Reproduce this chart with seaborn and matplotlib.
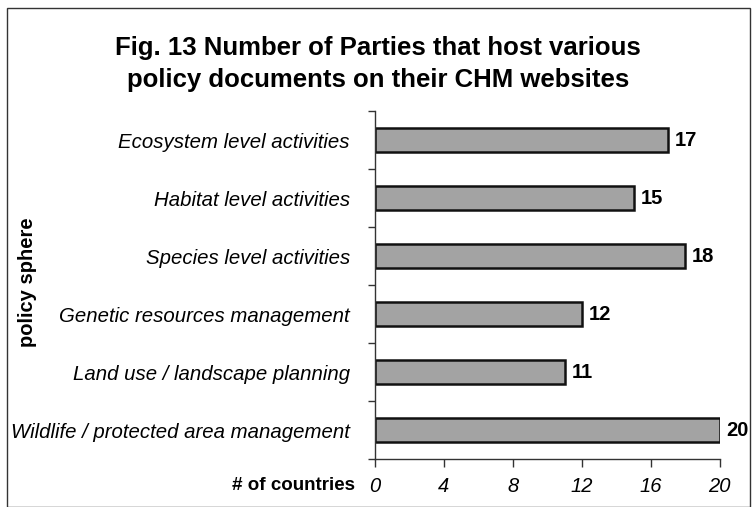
import matplotlib
matplotlib.use("Agg")
import matplotlib.pyplot as plt
from matplotlib.patches import Rectangle
import seaborn as sns
import pandas as pd

categories = [
    "Ecosystem level activities",
    "Habitat level activities",
    "Species level activities",
    "Genetic resources management",
    "Land use / landscape planning",
    "Wildlife / protected area management",
]
counts = [17, 15, 18, 12, 11, 20]
x_ticks = [0, 4, 8, 12, 16, 20]

df = pd.DataFrame({"sphere": categories, "countries": counts})

sns.set_theme(style="white")
plt.rcParams["font.family"] = ["Liberation Sans", "DejaVu Sans"]
plt.rcParams["text.color"] = "black"
plt.rcParams["xtick.color"] = "black"
plt.rcParams["ytick.color"] = "black"

fig = plt.figure(figsize=(7.56, 5.07), dpi=100)
ax = fig.add_axes([0.496, 0.0947, 0.456, 0.686])

sns.barplot(data=df, x="countries", y="sphere", orient="h", color="#a3a3a3",
            edgecolor="#111111", linewidth=1.8, width=0.42, saturation=1, ax=ax)

for i, v in enumerate(counts):
    ax.text(v + 0.4, i, f"{v}", va="center", ha="left", fontsize=14.5,
            fontweight="bold", color="black")

ax.set_xlim(0, 20)
ax.set_xticks(x_ticks)
ax.set_xticklabels([str(t) for t in x_ticks], fontsize=14.5, style="italic")
ax.set_ylim(5.5, -0.5)
ax.set_yticks([i + 0.5 for i in range(-1, 6)], minor=True)
ax.set_yticks(range(6))
ax.set_yticklabels(categories, fontsize=14.7, style="italic")
ax.tick_params(axis="y", which="major", length=0, pad=18)
ax.tick_params(axis="y", which="minor", length=5, width=1, color="#333333", left=True)
ax.tick_params(axis="x", length=6, width=1, color="#333333", bottom=True, pad=7)

ax.set_xlabel("")
ax.set_ylabel("")
for side in ("top", "right"):
    ax.spines[side].set_visible(False)
for side in ("left", "bottom"):
    ax.spines[side].set_color("#333333")
    ax.spines[side].set_linewidth(1)

fig.text(0.036, 0.444, "policy sphere", rotation=90, ha="center", va="center",
         fontsize=14.5, fontweight="bold")
fig.text(0.47, 0.043, "# of countries", ha="right", va="center",
         fontsize=13.5, fontweight="bold")
fig.text(0.5, 0.874, "Fig. 13 Number of Parties that host various\npolicy documents on their CHM websites",
         ha="center", va="center", fontsize=18.5, fontweight="bold", linespacing=1.45)

fig.patches.append(Rectangle((7 / 756, 0), (750 - 7) / 756, 1 - 8 / 507,
                             transform=fig.transFigure, fill=False,
                             edgecolor="#333333", linewidth=1))

fig.savefig("out.png", dpi=100)
